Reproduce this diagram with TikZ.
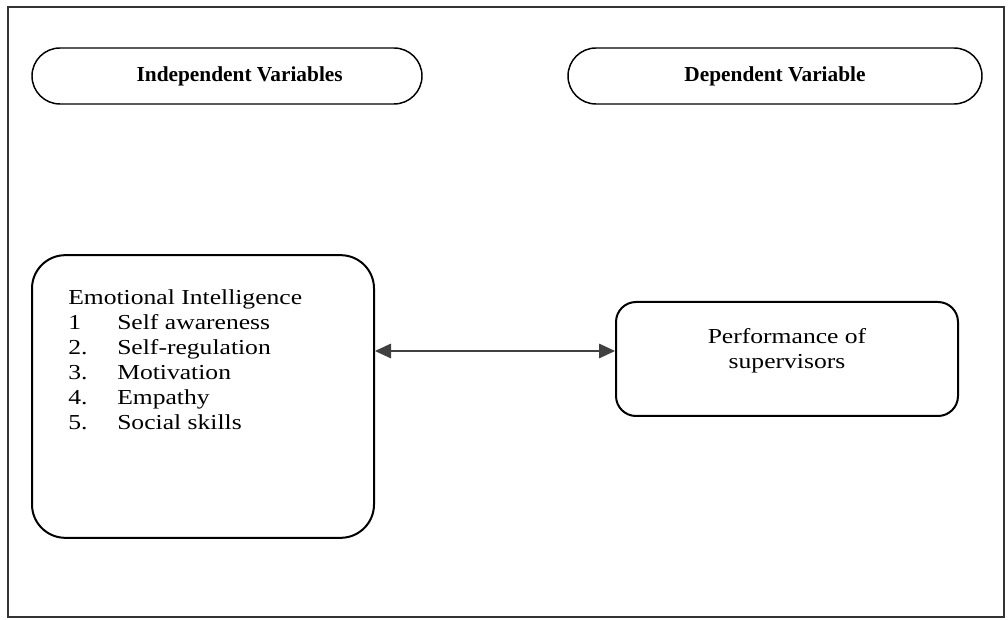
\documentclass[tikz,border=0pt]{standalone}
\usepackage{fontspec}
\setmainfont[FakeStretch=1.2]{Liberation Serif}
\newfontfamily\pillfont{Liberation Serif}
\usetikzlibrary{arrows.meta}
\tikzset{
  pill/.style={draw, line width=1.1pt, rounded corners=21pt, minimum height=42pt,
    font=\pillfont\fontsize{16}{18}\selectfont\bfseries},
  rbox/.style={draw, line width=1.5pt},
  link/.style={draw=black!75, line width=0.8pt,
    {Triangle[length=12pt,width=11pt]}-{Triangle[length=12pt,width=11pt]}}
}
\begin{document}
\begin{tikzpicture}[x=0.75pt,y=-0.75pt]
			\useasboundingbox (0,0) rectangle (1008,620);
			\draw[line width=1pt, black!80] (8,7) rectangle (1004,617);
			
			\node[pill, minimum width=292.5pt] (iv) at (227,76) {\hspace*{19pt}Independent Variables};
			\node[pill, minimum width=310.5pt] (dv) at (775,76) {Dependent Variable};
			
			\node[rbox, rounded corners=25pt, minimum width=256.5pt, minimum height=212pt] (ei) at (203,396.5) {};
			\node[anchor=north west, inner sep=0pt, font=\fontsize{16}{18.75}\selectfont] (eitext) at (68,287)
			{\begin{tabular}{@{}p{36.75pt}@{}l@{}}
			\multicolumn{2}{@{}l@{}}{Emotional Intelligence}\\
			1 & Self awareness\\
			2. & Self-regulation\\
			3. & Motivation\\
			4. & Empathy\\
			5. & Social skills
			\end{tabular}};
			
			\node[rbox, rounded corners=15pt, minimum width=256.5pt, minimum height=85.5pt] (perf) at (787,359) {};
			\node[align=center, font=\fontsize{16}{18.75}\selectfont] (perftext) at (787,351) {Performance of\\supervisors};
			
			\draw[link] (ei.east |- perftext) -- (perf.west |- perftext);
		\end{tikzpicture}
\end{document}
